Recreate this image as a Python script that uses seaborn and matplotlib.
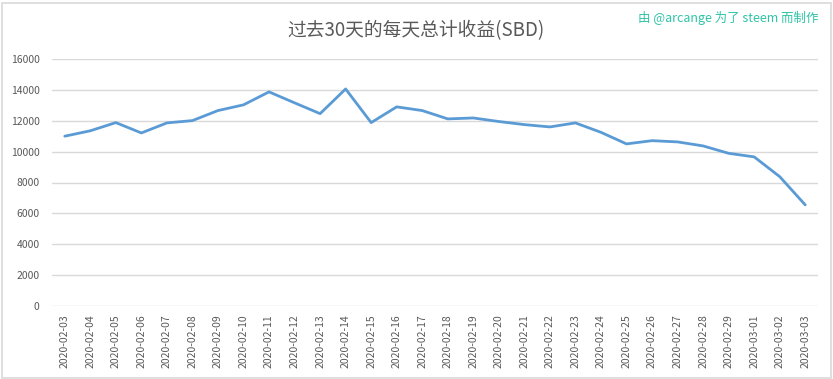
import matplotlib
matplotlib.use("Agg")
import matplotlib.pyplot as plt
import seaborn as sns
import pandas as pd
from matplotlib.patches import Rectangle

dates = ["2020-02-03", "2020-02-04", "2020-02-05", "2020-02-06", "2020-02-07",
         "2020-02-08", "2020-02-09", "2020-02-10", "2020-02-11", "2020-02-12",
         "2020-02-13", "2020-02-14", "2020-02-15", "2020-02-16", "2020-02-17",
         "2020-02-18", "2020-02-19", "2020-02-20", "2020-02-21", "2020-02-22",
         "2020-02-23", "2020-02-24", "2020-02-25", "2020-02-26", "2020-02-27",
         "2020-02-28", "2020-02-29", "2020-03-01", "2020-03-02", "2020-03-03"]
sbd = [11000, 11350, 11880, 11210, 11860, 12010, 12660, 13030, 13870, 13160,
       12460, 14060, 11880, 12900, 12660, 12120, 12180, 11950, 11750, 11600,
       11860, 11250, 10500, 10710, 10630, 10370, 9890, 9660, 8380, 6550]
yticks = [0, 2000, 4000, 6000, 8000, 10000, 12000, 14000, 16000]
title = "过去30天的每天总计收益(SBD)"
credit = "由 @arcange 为了 steem 而制作"

sns.set_theme(style="white")
plt.rcParams['font.family'] = ['Noto Sans CJK SC', 'DejaVu Sans']

df = pd.DataFrame({"date": dates, "sbd": sbd, "pos": range(len(dates))})

fig = plt.figure(figsize=(8.33, 3.79), dpi=100)
ax = fig.add_axes([52 / 833, 1 - 306 / 379, (818 - 52) / 833, (306 - 59) / 379])

sns.lineplot(data=df, x="pos", y="sbd", ax=ax, color="#5b9bd5", linewidth=2.0)

ax.set_xlim(-0.5, len(dates) - 0.5)
ax.set_ylim(0, 16000)
ax.set_yticks(yticks)
ax.set_yticklabels([str(v) for v in yticks])
ax.set_xticks(list(range(len(dates))))
ax.set_xticklabels(dates, rotation=90)
ax.set_xlabel("")
ax.set_ylabel("")
ax.grid(axis="y", color="#d9d9d9", linewidth=1.0)
ax.set_axisbelow(True)
for s in ax.spines.values():
    s.set_visible(False)
ax.tick_params(axis="both", length=0, labelsize=7.5, colors="#595959")
ax.tick_params(axis="y", pad=9)
ax.tick_params(axis="x", pad=6)

fig.text(416 / 833, 1 - 31 / 379, title, ha="center", va="center",
         fontsize=13.5, color="#595959", fontweight="light")
fig.text(818 / 833, 1 - 18 / 379, credit, ha="right", va="center",
         fontsize=9, color="#2ec4a6")

fig.patches.append(Rectangle((1.5 / 833, 1.5 / 379), 1 - 4 / 833, 1 - 4 / 379,
                             transform=fig.transFigure, fill=False,
                             edgecolor="#d9d9d9", linewidth=1.2))

fig.savefig("out.png", dpi=100, facecolor="white")
